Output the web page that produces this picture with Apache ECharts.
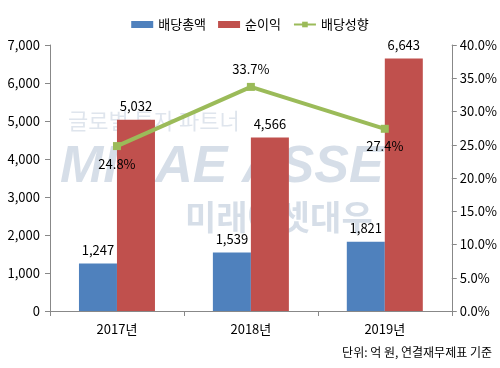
<!DOCTYPE html>
<html><head><meta charset="utf-8">
<script src="https://cdn.jsdelivr.net/npm/echarts@6/dist/echarts.min.js"></script>
<style>html,body{margin:0;padding:0;background:#fff}#c{width:500px;height:368px}</style>
</head><body><div id="c"></div>
<script>
const categories = ['2017년', '2018년', '2019년'];
const dividendTotal = [1247, 1539, 1821];
const netIncome = [5032, 4566, 6643];
const payoutRatio = [24.8, 33.7, 27.4];
const leftTicks = [0, 7000, 1000];
const rightTicks = [0, 40, 5];

const font = '"Noto Sans CJK KR", "Noto Sans", sans-serif';
const chart = echarts.init(document.getElementById('c'), null, {renderer: 'canvas'});
chart.setOption({
  animation: false,
  textStyle: {fontFamily: font},
  legend: {
    top: 13, left: 'center', itemWidth: 22, itemHeight: 7, itemGap: 12,
    textStyle: {fontSize: 13, color: '#000', fontFamily: font},
    data: [{name: '배당총액', icon: 'rect'}, {name: '순이익', icon: 'rect'}, {name: '배당성향'}]
  },
  graphic: [
    {type: 'text', left: 68, top: 110, z: -1, style: {text: '글로벌 투자 파트너', fontSize: 22, fill: 'rgba(150,170,195,0.3)', fontFamily: font}},
    {type: 'text', left: 60, top: 142, z: -1, style: {text: 'MIRAE ASSET', fontSize: 52, fontWeight: 'bold', fontStyle: 'italic', fill: 'rgba(120,145,180,0.3)', fontFamily: '"Liberation Sans", sans-serif'}},
    {type: 'text', left: 185, top: 200, z: -1, style: {text: '미래에셋대우', fontSize: 34, fontWeight: 'bold', fill: 'rgba(120,145,180,0.3)', fontFamily: font}},
    {type: 'text', right: 8, top: 346, style: {text: '단위: 억 원, 연결재무제표 기준', fontSize: 12, fill: '#000', fontFamily: font}}
  ],
  grid: {left: 50, right: 47, top: 45, bottom: 57},
  xAxis: {
    type: 'category', data: categories,
    axisLine: {lineStyle: {color: '#888'}},
    axisTick: {show: true, alignWithLabel: false, lineStyle: {color: '#888'}, length: 5},
    axisLabel: {fontSize: 13, color: '#000', margin: 12, fontFamily: font}
  },
  yAxis: [
    {type: 'value', min: leftTicks[0], max: leftTicks[1], interval: leftTicks[2],
     axisLine: {show: true, lineStyle: {color: '#888'}},
     axisTick: {show: true, length: 5, lineStyle: {color: '#888'}},
     splitLine: {show: false},
     axisLabel: {fontSize: 13, color: '#000', margin: 10, fontFamily: font,
       formatter: v => v.toLocaleString('en-US')}},
    {type: 'value', min: rightTicks[0], max: rightTicks[1], interval: rightTicks[2],
     axisLine: {show: true, lineStyle: {color: '#888'}},
     axisTick: {show: true, length: 5, lineStyle: {color: '#888'}},
     splitLine: {show: false},
     axisLabel: {fontSize: 13, color: '#000', margin: 8, fontFamily: font,
       formatter: v => v.toFixed(1) + '%'}}
  ],
  series: [
    {name: '배당총액', type: 'bar', data: dividendTotal, barWidth: 38, barGap: '0%',
     itemStyle: {color: '#4F81BD'},
     label: {show: true, position: 'top', distance: 7, fontSize: 13, color: '#000', fontFamily: font,
       formatter: p => p.value.toLocaleString('en-US')}},
    {name: '순이익', type: 'bar', data: netIncome, barWidth: 38,
     itemStyle: {color: '#C0504D'},
     label: {show: true, position: 'top', distance: 7, fontSize: 13, color: '#000', fontFamily: font,
       formatter: p => p.value.toLocaleString('en-US')}},
    {name: '배당성향', type: 'line', yAxisIndex: 1, data: payoutRatio.map((v, i) => ({
        value: v, label: {position: i === 1 ? 'top' : 'bottom'}})),
     symbol: 'rect', symbolSize: 8, lineStyle: {color: '#9BBB59', width: 4},
     itemStyle: {color: '#9BBB59'},
     label: {show: true, distance: 7, fontSize: 13, color: '#000', fontFamily: font,
       formatter: p => p.value.toFixed(1) + '%'}}
  ]
});
</script></body></html>
